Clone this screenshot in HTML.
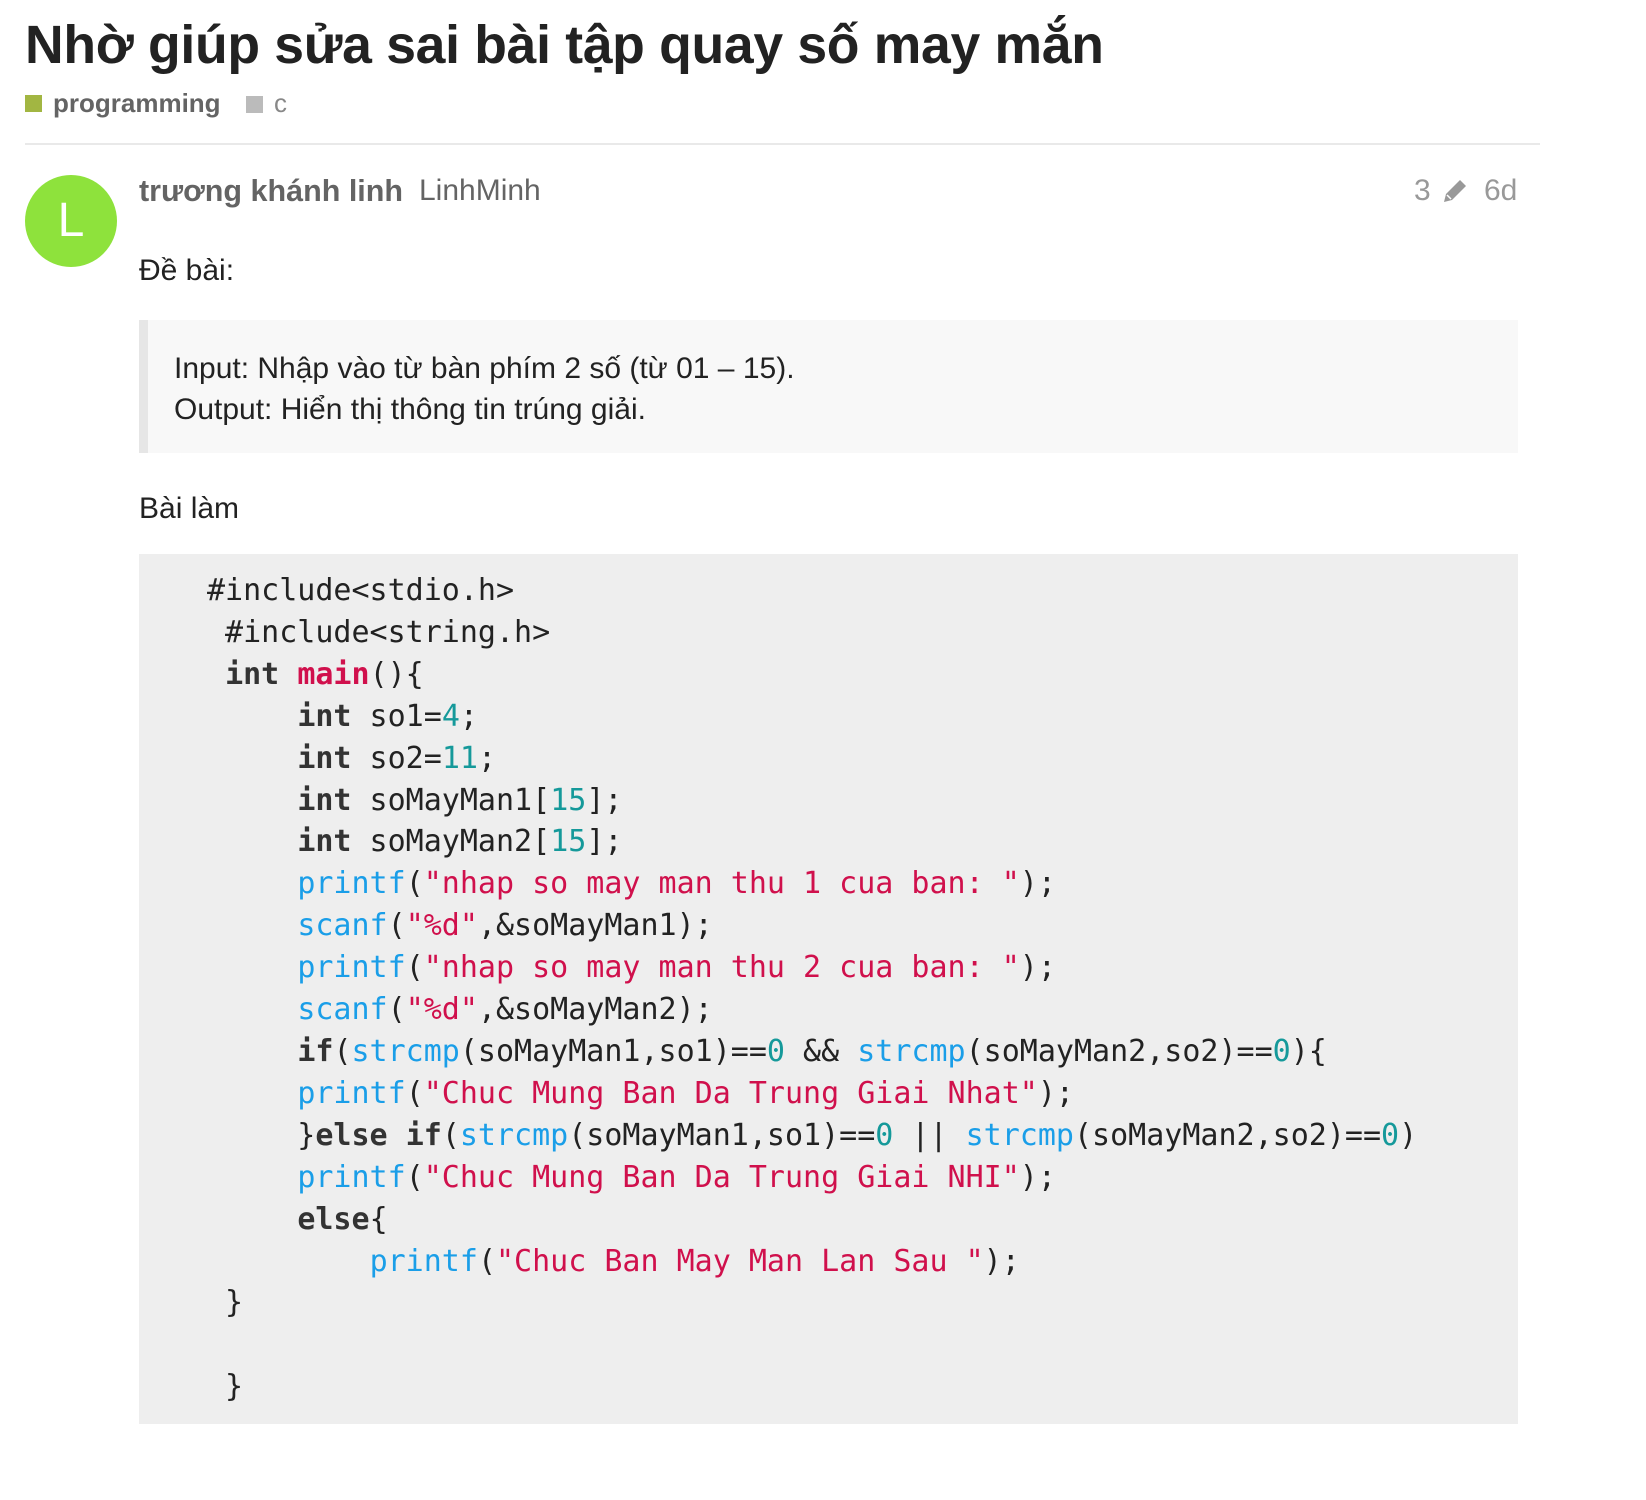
<!DOCTYPE html>
<html><head><meta charset="utf-8"><style>
*{margin:0;padding:0;box-sizing:border-box}
body{width:1646px;height:1500px;background:#fff;font-family:"Liberation Sans",sans-serif;color:#222;position:relative;overflow:hidden}
.a{position:absolute;white-space:nowrap}
h1{position:absolute;left:25px;top:15px;font-size:53.5px;font-weight:bold;color:#222;white-space:nowrap;letter-spacing:-0.3px}
pre{position:absolute;left:139px;top:554px;width:1379px;height:870px;background:#eeeeee;font-family:"DejaVu Sans Mono","Liberation Mono",monospace;font-size:30px;line-height:41.9px;padding:16px 0 0 68px;color:#222}
.k{font-weight:bold;color:#333}
.m{color:#d0104c;font-weight:bold}
.n{color:#15999a}
.f{color:#1a9ee8}
.s{color:#d0104c}
</style></head><body>
<h1>Nhờ giúp sửa sai bài tập quay số may mắn</h1>
<div class="a" style="left:25px;top:95px;width:17px;height:17px;background:#a2b642"></div>
<div class="a" style="left:53px;top:88px;font-size:26px;font-weight:bold;color:#646464">programming</div>
<div class="a" style="left:246px;top:96px;width:17px;height:17px;background:#bbb"></div>
<div class="a" style="left:274px;top:88px;font-size:26px;color:#888">c</div>
<div class="a" style="left:25px;top:143px;width:1515px;height:2px;background:#e9e9e9"></div>
<div class="a" style="left:25px;top:175px;width:92px;height:92px;border-radius:50%;background:#8ee23c;color:#fff;font-size:48px;text-align:center;line-height:92px">L</div>
<div class="a" style="left:139px;top:174px;font-size:30.5px;font-weight:bold;color:#646464">trương khánh linh</div>
<div class="a" style="left:419px;top:174px;font-size:30px;color:#646464">LinhMinh</div>
<div class="a" style="left:1414px;top:174px;font-size:30px;color:#999">3</div>
<svg class="a" style="left:1440px;top:176px" width="30" height="30" viewBox="0 0 30 30"><path d="M4 26 L6 18 L20 4 L26 10 L12 24 Z" fill="#999"/><path d="M7 19 L11 23" stroke="#fff" stroke-width="1.5"/></svg>
<div class="a" style="left:1484px;top:174px;font-size:30px;color:#999">6d</div>
<div class="a" style="left:139px;top:254px;font-size:30px">Đề bài:</div>
<div class="a" style="left:139px;top:320px;width:1379px;height:133px;background:#f8f8f8;border-left:9px solid #e6e6e6"></div>
<div class="a" style="left:174px;top:352px;font-size:30px">Input: Nhập vào từ bàn phím 2 số (từ 01 – 15).</div>
<div class="a" style="left:174px;top:393px;font-size:30px">Output: Hiển thị thông tin trúng giải.</div>
<div class="a" style="left:139px;top:492px;font-size:30px">Bài làm</div>
<pre>#include&lt;stdio.h&gt;
 #include&lt;string.h&gt;
 <span class="k">int</span> <span class="m">main</span>(){
     <span class="k">int</span> so1=<span class="n">4</span>;
     <span class="k">int</span> so2=<span class="n">11</span>;
     <span class="k">int</span> soMayMan1[<span class="n">15</span>];
     <span class="k">int</span> soMayMan2[<span class="n">15</span>];
     <span class="f">printf</span>(<span class="s">"nhap so may man thu 1 cua ban: "</span>);
     <span class="f">scanf</span>(<span class="s">"%d"</span>,&amp;soMayMan1);
     <span class="f">printf</span>(<span class="s">"nhap so may man thu 2 cua ban: "</span>);
     <span class="f">scanf</span>(<span class="s">"%d"</span>,&amp;soMayMan2);
     <span class="k">if</span>(<span class="f">strcmp</span>(soMayMan1,so1)==<span class="n">0</span> &amp;&amp; <span class="f">strcmp</span>(soMayMan2,so2)==<span class="n">0</span>){
     <span class="f">printf</span>(<span class="s">"Chuc Mung Ban Da Trung Giai Nhat"</span>);
     }<span class="k">else</span> <span class="k">if</span>(<span class="f">strcmp</span>(soMayMan1,so1)==<span class="n">0</span> || <span class="f">strcmp</span>(soMayMan2,so2)==<span class="n">0</span>)
     <span class="f">printf</span>(<span class="s">"Chuc Mung Ban Da Trung Giai NHI"</span>);
     <span class="k">else</span>{
         <span class="f">printf</span>(<span class="s">"Chuc Ban May Man Lan Sau "</span>);
 }

 }</pre>
</body></html>
